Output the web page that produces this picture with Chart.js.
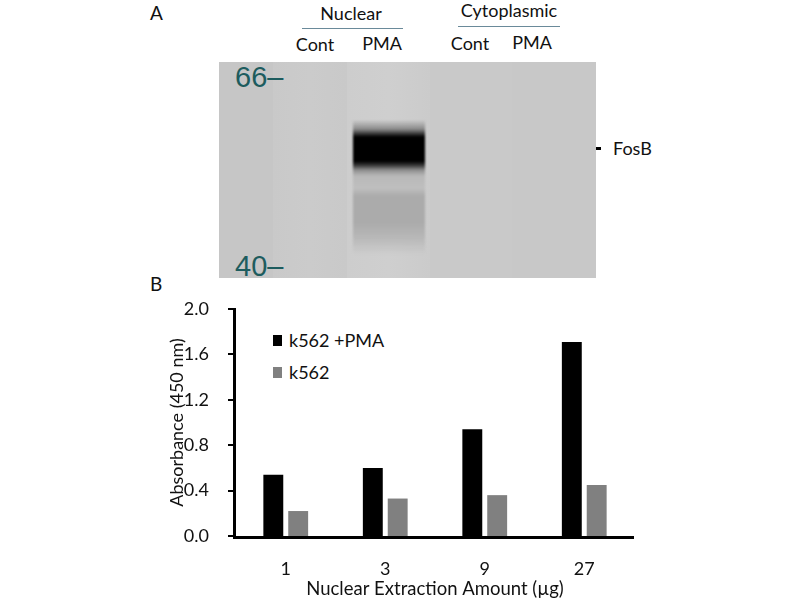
<!DOCTYPE html>
<html>
<head>
<meta charset="utf-8">
<script src="https://cdn.jsdelivr.net/npm/chart.js@4.4.1/dist/chart.umd.min.js"></script>
<style>
  html,body{margin:0;padding:0;background:#fff;}
  body{width:800px;height:600px;position:relative;overflow:hidden;font-family:Lato, "Liberation Sans", sans-serif;color:#111;}
  .t{position:absolute;white-space:nowrap;line-height:1;}
  .c{transform:translateX(-50%);}
  #blot{position:absolute;left:219px;top:62px;width:377px;height:216px;background:#c6c6c6;overflow:hidden;}
  .lane{position:absolute;top:0;height:216px;}
  #band{position:absolute;left:134px;width:72px;top:58px;height:134px;filter:blur(1px);
    background:linear-gradient(to bottom,
      rgba(60,60,60,0) 0px, rgba(60,60,60,0.45) 9px, #222 15px, #000 17px, #000 41px, #333 45px,
      #8e8e8e 50px, #b9b9b9 56px, #bfbfbf 68px, #ababab 76px, #ababab 102px, #b6b6b6 116px, rgba(196,196,196,0) 134px);}
  #chartwrap{position:absolute;left:0;top:290px;width:800px;height:310px;}
  .ax{position:absolute;background:#000;z-index:5;}
</style>
</head>
<body>
<div class="t" style="left:150px;top:3px;font-size:19px;">A</div>
<div class="t c" style="left:351px;top:4px;font-size:18px;">Nuclear</div>
<div style="position:absolute;left:302px;top:28px;width:101px;height:1px;background:#6a8a9a;"></div>
<div class="t c" style="left:509px;top:1px;font-size:18px;">Cytoplasmic</div>
<div style="position:absolute;left:458px;top:26px;width:102px;height:1px;background:#6a8a9a;"></div>
<div class="t c" style="left:315px;top:35px;font-size:18px;">Cont</div>
<div class="t c" style="left:382px;top:34px;font-size:18px;">PMA</div>
<div class="t c" style="left:470px;top:34px;font-size:18px;">Cont</div>
<div class="t c" style="left:532px;top:33px;font-size:18px;">PMA</div>

<div id="blot">
  <div class="lane" style="left:54px;width:74px;background:linear-gradient(to right,#c9c9c9,#cbcbcb 50%,#c9c9c9);"></div>
  <div class="lane" style="left:128px;width:83px;background:linear-gradient(to right,#cdcdcd,#cfcfcf 50%,#cbcbcb);"></div>
  <div class="lane" style="left:211px;width:82px;background:#c9c9c9;"></div>
  <div class="lane" style="left:293px;width:84px;background:#c8c8c8;"></div>
  <div id="band"></div>
  <div class="t" style="left:16px;top:1px;font-size:29px;color:#1d5c5e;font-family:'Liberation Sans',Arial,sans-serif;">66–</div>
  <div class="t" style="left:16px;top:190px;font-size:29px;color:#1d5c5e;font-family:'Liberation Sans',Arial,sans-serif;">40–</div>
</div>
<div style="position:absolute;left:596px;top:147px;width:5px;height:3px;background:#000;"></div>
<div class="t" style="left:613px;top:139px;font-size:18px;">FosB</div>

<div class="t" style="left:150px;top:274px;font-size:19px;">B</div>
<div id="legend"></div>
<div id="chartwrap"><canvas id="c" width="800" height="310"></canvas></div>

<script>
const categories = ["1", "3", "9", "27"];
const seriesNames = ["k562 +PMA", "k562"];
const pmaValues = [0.54, 0.60, 0.94, 1.71];
const k562Values = [0.22, 0.33, 0.36, 0.45];
const yTicks = [0.0, 0.4, 0.8, 1.2, 1.6, 2.0];
const colors = ["#000000", "#808080"];

// legend
const lg = document.getElementById('legend');
seriesNames.forEach((n, i) => {
  const sq = document.createElement('div');
  sq.style.cssText = `position:absolute;left:273px;top:${335 + i*32}px;width:9px;height:11px;background:${colors[i]};`;
  lg.appendChild(sq);
  const tx = document.createElement('div');
  tx.className = 't';
  tx.style.cssText = `left:289px;top:${331 + i*32}px;font-size:18px;`;
  tx.textContent = n;
  lg.appendChild(tx);
});

const font = {family: "Lato, 'Liberation Sans', sans-serif", size: 18};
const chart = new Chart(document.getElementById('c'), {
  type: 'bar',
  data: {
    labels: categories,
    datasets: [
      {label: seriesNames[0], data: pmaValues, backgroundColor: colors[0], barPercentage: 0.8, categoryPercentage: 0.5},
      {label: seriesNames[1], data: k562Values, backgroundColor: colors[1], barPercentage: 0.8, categoryPercentage: 0.5}
    ]
  },
  options: {
    responsive: false,
    animation: false,
    layout: {padding: {left: 162, right: 166, top: 19, bottom: 0}},
    plugins: {legend: {display: false}, tooltip: {enabled: false}},
    scales: {
      x: {
        grid: {display: false},
        border: {display: false},
        ticks: {color: '#111', font: font, padding: 14},
        title: {display: true, text: 'Nuclear Extraction Amount (µg)', color: '#111', font: {family: font.family, size: 18.5}, padding: {top: 0, bottom: 0}},
        afterFit: s => { s.height = 64; }
      },
      y: {
        min: 0, max: 2.0,
        afterBuildTicks: s => { s.ticks = yTicks.map(v => ({value: v})); },
        grid: {display: false},
        border: {display: false},
        ticks: {color: '#111', font: font, padding: 19, callback: v => Number(v).toFixed(1)},
        title: {display: true, text: 'Absorbance (450 nm)', color: '#111', font: font, padding: {top: 4, bottom: 4}},
        afterFit: s => { s.width = 74; s.paddingTop = 0; s.paddingBottom = 0; }
      }
    }
  }
});

// axis lines and y tick marks positioned from the library's own scales
function addAx(l, t, w, h) {
  const d = document.createElement('div');
  d.className = 'ax';
  d.style.cssText = `left:${l}px;top:${t}px;width:${w}px;height:${h}px;`;
  document.body.appendChild(d);
}
const wrapTop = 290;
const a = chart.chartArea, ys = chart.scales.y;
const L = Math.round(a.left), B = Math.round(a.bottom) + wrapTop, R = Math.round(a.right);
const T = Math.round(ys.getPixelForValue(2.0)) + wrapTop;
addAx(L - 3, T - 1, 3, B - T + 3);
addAx(L - 3, B, R - L + 3, 3);
yTicks.forEach(v => {
  const py = Math.round(ys.getPixelForValue(v)) + wrapTop;
  addAx(L - 8, py - 1, 5, 2);
});
</script>
</body>
</html>
